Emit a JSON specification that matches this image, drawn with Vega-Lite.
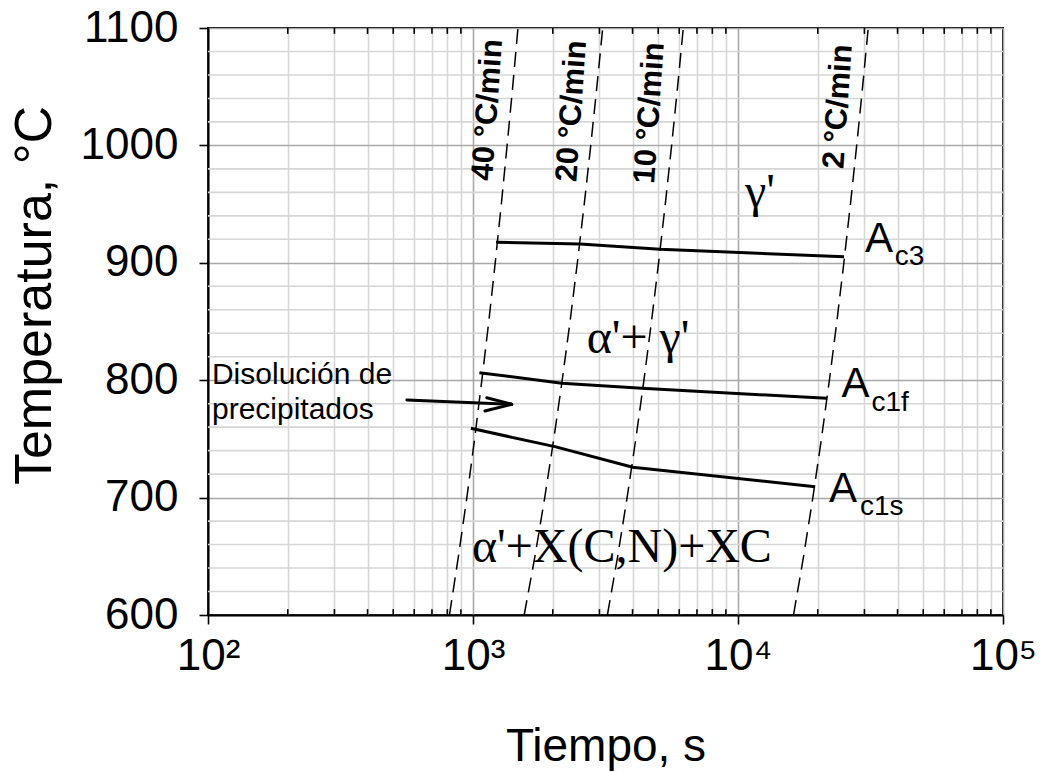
{
  "$schema": "https://vega.github.io/schema/vega-lite/v6.json",
  "width": 795,
  "height": 587,
  "autosize": {"type": "none"},
  "padding": {"left": 208, "top": 28, "right": 39, "bottom": 157},
  "background": "white",
  "config": {
    "view": {"stroke": "black", "strokeWidth": 2},
    "text": {"color": "black"}
  },
  "datasets": {
    "xgrid": [
      {"t": 100}, {"t": 200}, {"t": 300}, {"t": 400}, {"t": 500}, {"t": 600}, {"t": 700}, {"t": 800}, {"t": 900},
      {"t": 1000}, {"t": 2000}, {"t": 3000}, {"t": 4000}, {"t": 5000}, {"t": 6000}, {"t": 7000}, {"t": 8000}, {"t": 9000},
      {"t": 10000}, {"t": 20000}, {"t": 30000}, {"t": 40000}, {"t": 50000}, {"t": 60000}, {"t": 70000}, {"t": 80000}, {"t": 90000},
      {"t": 100000}
    ],
    "minorTicks": [
      {"t": 200}, {"t": 300}, {"t": 400}, {"t": 500}, {"t": 600}, {"t": 700}, {"t": 800}, {"t": 900},
      {"t": 2000}, {"t": 3000}, {"t": 4000}, {"t": 5000}, {"t": 6000}, {"t": 7000}, {"t": 8000}, {"t": 9000},
      {"t": 20000}, {"t": 30000}, {"t": 40000}, {"t": 50000}, {"t": 60000}, {"t": 70000}, {"t": 80000}, {"t": 90000}
    ],
    "minorTemps": [
      {"T": 620}, {"T": 640}, {"T": 660}, {"T": 680},
      {"T": 720}, {"T": 740}, {"T": 760}, {"T": 780},
      {"T": 820}, {"T": 840}, {"T": 860}, {"T": 880},
      {"T": 920}, {"T": 940}, {"T": 960}, {"T": 980},
      {"T": 1020}, {"T": 1040}, {"T": 1060}, {"T": 1080}
    ],
    "heating": [
      {"rate": "40", "T": 600, "t": 815}, {"rate": "40", "T": 650, "t": 881}, {"rate": "40", "T": 700, "t": 948},
      {"rate": "40", "T": 750, "t": 1014}, {"rate": "40", "T": 800, "t": 1080}, {"rate": "40", "T": 850, "t": 1147},
      {"rate": "40", "T": 900, "t": 1213}, {"rate": "40", "T": 950, "t": 1279}, {"rate": "40", "T": 1000, "t": 1345},
      {"rate": "40", "T": 1050, "t": 1412}, {"rate": "40", "T": 1100, "t": 1478},
      {"rate": "20", "T": 600, "t": 1560}, {"rate": "20", "T": 650, "t": 1713}, {"rate": "20", "T": 700, "t": 1865},
      {"rate": "20", "T": 750, "t": 2018}, {"rate": "20", "T": 800, "t": 2171}, {"rate": "20", "T": 850, "t": 2324},
      {"rate": "20", "T": 900, "t": 2476}, {"rate": "20", "T": 950, "t": 2629}, {"rate": "20", "T": 1000, "t": 2782},
      {"rate": "20", "T": 1050, "t": 2934}, {"rate": "20", "T": 1100, "t": 3087},
      {"rate": "10", "T": 600, "t": 3215}, {"rate": "10", "T": 650, "t": 3515}, {"rate": "10", "T": 700, "t": 3815},
      {"rate": "10", "T": 750, "t": 4116}, {"rate": "10", "T": 800, "t": 4416}, {"rate": "10", "T": 850, "t": 4716},
      {"rate": "10", "T": 900, "t": 5016}, {"rate": "10", "T": 950, "t": 5316}, {"rate": "10", "T": 1000, "t": 5617},
      {"rate": "10", "T": 1050, "t": 5917}, {"rate": "10", "T": 1100, "t": 6217},
      {"rate": "2", "T": 600, "t": 16200}, {"rate": "2", "T": 650, "t": 17681}, {"rate": "2", "T": 700, "t": 19162},
      {"rate": "2", "T": 750, "t": 20643}, {"rate": "2", "T": 800, "t": 22124}, {"rate": "2", "T": 850, "t": 23605},
      {"rate": "2", "T": 900, "t": 25086}, {"rate": "2", "T": 950, "t": 26567}, {"rate": "2", "T": 1000, "t": 28048},
      {"rate": "2", "T": 1050, "t": 29529}, {"rate": "2", "T": 1100, "t": 31010}
    ],
    "transformations": [
      {"curve": "Ac3", "t": 1222, "T": 917.5}, {"curve": "Ac3", "t": 2535, "T": 916}, {"curve": "Ac3", "t": 5080, "T": 911.5}, {"curve": "Ac3", "t": 25120, "T": 905.2},
      {"curve": "Ac1f", "t": 1057, "T": 806.4}, {"curve": "Ac1f", "t": 2164, "T": 797.4}, {"curve": "Ac1f", "t": 4335, "T": 793.1}, {"curve": "Ac1f", "t": 21630, "T": 784.6},
      {"curve": "Ac1s", "t": 982, "T": 759}, {"curve": "Ac1s", "t": 2037, "T": 743.4}, {"curve": "Ac1s", "t": 4010, "T": 725.8}, {"curve": "Ac1s", "t": 19550, "T": 709.3}
    ],
    "arrow": [
      {"seg": "shaft", "t": 563, "T": 783.1}, {"seg": "shaft", "t": 1400, "T": 779.5},
      {"seg": "upper", "t": 1127, "T": 785.1}, {"seg": "upper", "t": 1400, "T": 779.5},
      {"seg": "lower", "t": 1109, "T": 773.8}, {"seg": "lower", "t": 1400, "T": 779.5}
    ],
    "rateLabels": [
      {"t": 1140, "T": 1030.2, "text": "40 °C/min"},
      {"t": 2366, "T": 1029.3, "text": "20 °C/min"},
      {"t": 4656, "T": 1027.6, "text": "10 °C/min"},
      {"t": 23950, "T": 1033.1, "text": "2 °C/min"}
    ],
    "phaseLabels": [
      {"t": 10620, "T": 947.5, "text": "γ'"},
      {"t": 2685, "T": 823.2, "text": "α'+ γ'"},
      {"t": 991, "T": 645.1, "text": "α'+X(C,N)+XC"}
    ],
    "aLabels": [
      {"t": 30130, "T": 909.5, "text": "A"},
      {"t": 24600, "T": 786, "text": "A"},
      {"t": 22030, "T": 696.5, "text": "A"}
    ],
    "subLabels": [
      {"t": 39080, "T": 898.1, "text": "c3"},
      {"t": 31910, "T": 774, "text": "c1f"},
      {"t": 28840, "T": 685.2, "text": "c1s"}
    ],
    "note": [
      {"t": 103.5, "T": 796.8, "text": "Disolución de"},
      {"t": 103.5, "T": 767, "text": "precipitados"}
    ]
  },
  "layer": [
    {
      "data": {"name": "xgrid"},
      "mark": {"type": "point", "opacity": 0},
      "encoding": {
        "x": {
          "field": "t", "type": "quantitative",
          "scale": {"type": "log", "domain": [100, 100000]},
          "axis": {
            "title": "Tiempo, s",
            "values": [100, 200, 300, 400, 500, 600, 700, 800, 900, 1000, 2000, 3000, 4000, 5000, 6000, 7000, 8000, 9000, 10000, 20000, 30000, 40000, 50000, 60000, 70000, 80000, 90000, 100000],
            "grid": true,
            "gridColor": {"condition": {"test": "indexof([100, 1000, 10000, 100000], datum.value) >= 0", "value": "#a9a9a9"}, "value": "#d6d6d6"},
            "gridWidth": 1.6,
            "domainColor": "black", "domainWidth": 2,
            "tickColor": "black", "tickWidth": 1.6, "tickSize": 9,
            "tickOpacity": {"condition": {"test": "indexof([100, 1000, 10000, 100000], datum.value) >= 0", "value": 1}, "value": 0},
            "labelExpr": "datum.value == 100 ? '10²' : datum.value == 1000 ? '10³' : datum.value == 10000 ? '10⁴' : datum.value == 100000 ? '10⁵' : ''",
            "labelOverlap": false, "labelFlush": false,
            "labelFont": "Liberation Sans", "labelFontSize": 44, "labelColor": "black", "labelPadding": 10,
            "titleFont": "Liberation Sans", "titleFontSize": 46, "titleFontWeight": "normal", "titleColor": "black",
            "titleBaseline": "alphabetic", "titleY": 145
          }
        },
        "y": {
          "datum": 600, "type": "quantitative",
          "scale": {"domain": [600, 1100], "nice": false, "zero": false},
          "axis": {
            "title": "Temperatura, °C",
            "values": [600, 700, 800, 900, 1000, 1100],
            "format": "d",
            "grid": true,
            "gridColor": "#a9a9a9",
            "gridWidth": 1.6,
            "domainColor": "black", "domainWidth": 2,
            "tickColor": "black", "tickWidth": 1.6, "tickSize": 9,
            "labelOverlap": false, "labelFlush": false,
            "labelFont": "Liberation Sans", "labelFontSize": 44, "labelColor": "black", "labelPadding": 21,
            "titleFont": "Liberation Sans", "titleFontSize": 52, "titleFontWeight": "normal", "titleColor": "black",
            "titleBaseline": "alphabetic", "titleX": -158, "titleY": 267
          }
        }
      }
    },
    {
      "data": {"name": "minorTemps"},
      "mark": {"type": "rule", "color": "#d6d6d6", "strokeWidth": 1.6},
      "encoding": {
        "y": {"field": "T", "type": "quantitative"}
      }
    },
    {
      "data": {"name": "minorTicks"},
      "mark": {"type": "rule", "color": "black", "strokeWidth": 1.6},
      "encoding": {
        "x": {"field": "t", "type": "quantitative"},
        "y": {"datum": 600},
        "y2": {"datum": 605}
      }
    },
    {
      "data": {"name": "minorTicks"},
      "mark": {"type": "rule", "color": "black", "strokeWidth": 1.6},
      "encoding": {
        "x": {"field": "t", "type": "quantitative"},
        "y": {"datum": 1100},
        "y2": {"datum": 1095}
      }
    },
    {
      "data": {"name": "heating"},
      "mark": {"type": "line", "color": "black", "strokeWidth": 1.5, "strokeDash": [15, 8]},
      "encoding": {
        "x": {"field": "t", "type": "quantitative"},
        "y": {"field": "T", "type": "quantitative"},
        "detail": {"field": "rate"},
        "order": {"field": "T", "type": "quantitative"}
      }
    },
    {
      "data": {"name": "transformations"},
      "mark": {"type": "line", "color": "black", "strokeWidth": 3, "strokeJoin": "round"},
      "encoding": {
        "x": {"field": "t", "type": "quantitative"},
        "y": {"field": "T", "type": "quantitative"},
        "detail": {"field": "curve"},
        "order": {"field": "t", "type": "quantitative"}
      }
    },
    {
      "data": {"name": "arrow"},
      "mark": {"type": "line", "color": "black", "strokeWidth": 3, "strokeCap": "round"},
      "encoding": {
        "x": {"field": "t", "type": "quantitative"},
        "y": {"field": "T", "type": "quantitative"},
        "detail": {"field": "seg"},
        "order": {"field": "t", "type": "quantitative"}
      }
    },
    {
      "data": {"name": "rateLabels"},
      "mark": {"type": "text", "font": "Liberation Sans", "fontSize": 31, "fontWeight": "bold", "angle": -86, "align": "center", "baseline": "middle"},
      "encoding": {
        "x": {"field": "t", "type": "quantitative"},
        "y": {"field": "T", "type": "quantitative"},
        "text": {"field": "text"}
      }
    },
    {
      "data": {"name": "phaseLabels"},
      "mark": {"type": "text", "font": "Liberation Serif", "fontSize": 48, "align": "left", "baseline": "alphabetic"},
      "encoding": {
        "x": {"field": "t", "type": "quantitative"},
        "y": {"field": "T", "type": "quantitative"},
        "text": {"field": "text"}
      }
    },
    {
      "data": {"name": "aLabels"},
      "mark": {"type": "text", "font": "Liberation Sans", "fontSize": 42, "align": "left", "baseline": "alphabetic"},
      "encoding": {
        "x": {"field": "t", "type": "quantitative"},
        "y": {"field": "T", "type": "quantitative"},
        "text": {"field": "text"}
      }
    },
    {
      "data": {"name": "subLabels"},
      "mark": {"type": "text", "font": "Liberation Sans", "fontSize": 28, "align": "left", "baseline": "alphabetic"},
      "encoding": {
        "x": {"field": "t", "type": "quantitative"},
        "y": {"field": "T", "type": "quantitative"},
        "text": {"field": "text"}
      }
    },
    {
      "data": {"name": "note"},
      "mark": {"type": "text", "font": "Liberation Sans", "fontSize": 30, "align": "left", "baseline": "alphabetic"},
      "encoding": {
        "x": {"field": "t", "type": "quantitative"},
        "y": {"field": "T", "type": "quantitative"},
        "text": {"field": "text"}
      }
    }
  ]
}
